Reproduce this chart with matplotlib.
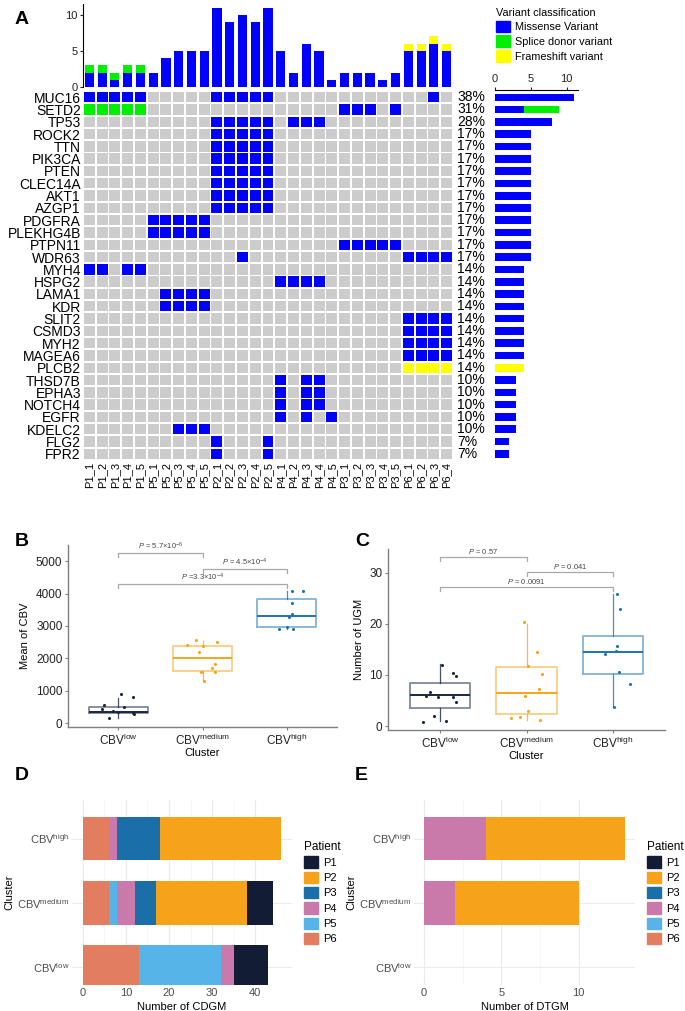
import numpy as np
import matplotlib
matplotlib.use("Agg")
import matplotlib.pyplot as plt
from matplotlib.patches import Patch

plt.rcParams.update({
    "font.family": ["Liberation Sans", "DejaVu Sans"],
    "mathtext.fontset": "custom",
    "mathtext.rm": "Liberation Sans",
    "mathtext.it": "Liberation Sans:italic",
    "mathtext.bf": "Liberation Sans:bold",
})

# ── data: panel A (oncoprint) ────────────────────────────────────────
samples = ["P1_1", "P1_2", "P1_3", "P1_4", "P1_5",
           "P5_1", "P5_2", "P5_3", "P5_4", "P5_5",
           "P2_1", "P2_2", "P2_3", "P2_4", "P2_5",
           "P4_1", "P4_2", "P4_3", "P4_4", "P4_5",
           "P3_1", "P3_2", "P3_3", "P3_4", "P3_5",
           "P6_1", "P6_2", "P6_3", "P6_4"]

# M = missense, S = splice donor, F = frameshift, . = none
# groups:      P1    P5    P2    P4    P3    P6
onco_rows = [
    ("MUC16",    "MMMMM ..... MMMMM ..... ..... ..M."),
    ("SETD2",    "SSSSS ..... ..... ..... MMM.M ...."),
    ("TP53",     "..... ..... MMMMM .MMM. ..... ...."),
    ("ROCK2",    "..... ..... MMMMM ..... ..... ...."),
    ("TTN",      "..... ..... MMMMM ..... ..... ...."),
    ("PIK3CA",   "..... ..... MMMMM ..... ..... ...."),
    ("PTEN",     "..... ..... MMMMM ..... ..... ...."),
    ("CLEC14A",  "..... ..... MMMMM ..... ..... ...."),
    ("AKT1",     "..... ..... MMMMM ..... ..... ...."),
    ("AZGP1",    "..... ..... MMMMM ..... ..... ...."),
    ("PDGFRA",   "..... MMMMM ..... ..... ..... ...."),
    ("PLEKHG4B", "..... MMMMM ..... ..... ..... ...."),
    ("PTPN11",   "..... ..... ..... ..... MMMMM ...."),
    ("WDR63",    "..... ..... ..M.. ..... ..... MMMM"),
    ("MYH4",     "MM.MM ..... ..... ..... ..... ...."),
    ("HSPG2",    "..... ..... ..... MMMM. ..... ...."),
    ("LAMA1",    "..... .MMMM ..... ..... ..... ...."),
    ("KDR",      "..... .MMMM ..... ..... ..... ...."),
    ("SLIT2",    "..... ..... ..... ..... ..... MMMM"),
    ("CSMD3",    "..... ..... ..... ..... ..... MMMM"),
    ("MYH2",     "..... ..... ..... ..... ..... MMMM"),
    ("MAGEA6",   "..... ..... ..... ..... ..... MMMM"),
    ("PLCB2",    "..... ..... ..... ..... ..... FFFF"),
    ("THSD7B",   "..... ..... ..... M.MM. ..... ...."),
    ("EPHA3",    "..... ..... ..... M.MM. ..... ...."),
    ("NOTCH4",   "..... ..... ..... M.MM. ..... ...."),
    ("EGFR",     "..... ..... ..... M.M.M ..... ...."),
    ("KDELC2",   "..... ..MMM ..... ..... ..... ...."),
    ("FLG2",     "..... ..... M...M ..... ..... ...."),
    ("FPR2",     "..... ..... M...M ..... ..... ...."),
]
genes = [g for g, _ in onco_rows]
calls = [s.replace(" ", "") for _, s in onco_rows]

# per-sample mutation burden (top bars)
tmb_missense   = [2, 2, 1, 2, 2, 2, 4, 5, 5, 5, 11, 9, 10, 9, 11,
                  5, 2, 6, 5, 1, 2, 2, 2, 1, 2, 5, 5, 6, 5]
tmb_splice     = [1, 1, 1, 1, 1] + [0] * 24
tmb_frameshift = [0] * 25 + [1, 1, 1, 1]

VC_COL = {"M": "#0000FF", "S": "#00EE00", "F": "#FFFF00", ".": "#CCCCCC"}
VC_LAB = {"M": "Missense Variant", "S": "Splice donor variant", "F": "Frameshift variant"}

# ── data: panels B / C ───────────────────────────────────────────────
clusters = ["low", "medium", "high"]
CL_COL = {"low": "#1B2640", "medium": "#F4A51C", "high": "#1F73AE"}

cbv_box = {
    "low":    dict(q1=300, med=330, q3=510, whislo=155, whishi=770),
    "medium": dict(q1=1605, med=2015, q3=2395, whislo=1336, whishi=2550),
    "high":   dict(q1=2963, med=3321, q3=3827, whislo=2920, whishi=4093),
}
cbv_pts = {
    "low":    [904, 802, 565, 432, 494, 358, 340, 309, 287, 142],
    "medium": [2571, 2426, 2386, 2500, 2200, 1830, 1716, 1562, 1562, 1306],
    "high":   [4093, 4093, 3713, 3383, 3272, 2963, 2920, 2920],
}
cbv_jit = {
    "low":    [0.03, 0.17, -0.17, -0.19, 0.07, -0.07, -0.01, 0.17, 0.19, -0.11],
    "medium": [-0.08, -0.18, 0.01, 0.17, -0.04, 0.15, 0.11, -0.02, 0.15, 0.02],
    "high":   [0.07, 0.19, 0.06, 0.06, 0.03, 0.01, -0.09, 0.08],
}
cbv_pvals = [(1, 2, 5247, r"$\it{P}$ = 5.7×10$^{-6}$"),
             (2, 3, 4762, r"$\it{P}$ = 4.5×10$^{-4}$"),
             (1, 3, 4290, r"$\it{P}$ =3.3×10$^{-4}$")]

ugm_box = {
    "low":    dict(q1=3.47, med=6.0, q3=8.5, whislo=1.04, whishi=12.1),
    "medium": dict(q1=2.29, med=6.47, q3=11.5, whislo=1.18, whishi=20.0),
    "high":   dict(q1=10.2, med=14.45, q3=17.7, whislo=3.8, whishi=25.9),
}
ugm_pts = {
    "low":    [11.96, 10.33, 9.8, 6.7, 5.9, 5.75, 5.75, 4.76, 1.96, 0.98, 0.78],
    "medium": [20.3, 14.4, 11.8, 10.2, 7.2, 5.9, 3.0, 1.6, 1.7, 1.2],
    "high":   [25.9, 23.0, 15.7, 14.7, 14.1, 10.6, 8.2, 3.8],
}
ugm_jit = {
    "low":    [0.02, 0.15, 0.18, -0.11, -0.16, -0.02, 0.15, 0.18, -0.07, 0.07, -0.19],
    "medium": [-0.03, 0.12, 0.02, 0.18, 0.15, -0.02, 0.02, -0.18, -0.08, 0.16],
    "high":   [0.05, 0.08, 0.05, 0.03, -0.09, 0.07, 0.19, 0.01],
}
ugm_pvals = [(1, 2, 33.1, r"$\it{P}$ = 0.57"),
             (2, 3, 30.1, r"$\it{P}$ = 0.041"),
             (1, 3, 27.2, r"$\it{P}$ = 0.0091")]

# ── data: panels D / E (counts per patient, per cluster) ─────────────
patients = ["P1", "P2", "P3", "P4", "P5", "P6"]
PT_COL = {"P1": "#131C35", "P2": "#F7A21B", "P3": "#1A6FA9",
          "P4": "#C97AAB", "P5": "#56B4E9", "P6": "#E27D60"}
cdgm = {  # order: low, medium, high
    "P1": [8, 6, 0],
    "P2": [0, 21, 28],
    "P3": [0, 5, 10],
    "P4": [3, 4, 2],
    "P5": [19, 2, 0],
    "P6": [13, 6, 6],
}
dtgm = {
    "P1": [0, 0, 0],
    "P2": [0, 8, 9],
    "P3": [0, 0, 0],
    "P4": [0, 2, 4],
    "P5": [0, 0, 0],
    "P6": [0, 0, 0],
}

# ── figure ───────────────────────────────────────────────────────────
W, H = 685, 1011
fig = plt.figure(figsize=(W / 100, H / 100), dpi=100)


def px_axes(x0, y0, x1, y1):
    return fig.add_axes([x0 / W, 1 - y1 / H, (x1 - x0) / W, (y1 - y0) / H])


def cbv_label(c):
    return "CBV$^{\\mathrm{%s}}$" % c


n_s, n_g = len(samples), len(genes)
xs = np.arange(n_s)

# top bars
ax_top = px_axes(83, 4, 453, 87)
ax_top.bar(xs, tmb_missense, width=0.72, color=VC_COL["M"])
ax_top.bar(xs, tmb_splice, width=0.72, bottom=tmb_missense, color=VC_COL["S"])
ax_top.bar(xs, tmb_frameshift, width=0.72,
           bottom=np.array(tmb_missense) + np.array(tmb_splice), color=VC_COL["F"])
ax_top.set_xlim(-0.5, n_s - 0.5)
ax_top.set_ylim(0, 11.5)
ax_top.set_yticks([0, 5, 10])
ax_top.set_xticks([])
for s in ["top", "right", "bottom"]:
    ax_top.spines[s].set_visible(False)
ax_top.spines["left"].set_linewidth(0.8)
ax_top.tick_params(axis="y", labelsize=8, length=2.5, width=0.8, pad=1.5, colors="#222222")

# grid
ax_g = px_axes(83, 91, 453, 460)
for gi, row in enumerate(calls):
    cols = [VC_COL[c] for c in row]
    ax_g.bar(xs, 0.85, width=0.86, bottom=gi - 0.425, color=cols)
ax_g.set_xlim(-0.5, n_s - 0.5)
ax_g.set_ylim(n_g - 0.5, -0.5)
ax_g.set_yticks(range(n_g))
ax_g.set_yticklabels(genes, fontsize=10)
ax_g.set_xticks(xs)
ax_g.set_xticklabels(samples, rotation=90, fontsize=8, va="top")
ax_g.tick_params(length=0, pad=1.5)
for s in ax_g.spines.values():
    s.set_visible(False)
for gi, row in enumerate(calls):
    n_mut = sum(c != "." for c in row)
    ax_g.text(n_s - 0.5 + 0.35, gi, f"{round(100 * n_mut / n_s)}%",
              fontsize=10, va="center", ha="left")

# right bars
ax_r = px_axes(495, 90, 578, 460)
left = np.zeros(n_g)
for code in ["M", "S", "F"]:
    cnt = np.array([row.count(code) for row in calls])
    ax_r.barh(range(n_g), cnt, left=left, height=0.62, color=VC_COL[code])
    left += cnt
ax_r.set_xlim(0, 11.6)
ax_r.set_ylim(n_g - 0.5, -0.6)
ax_r.set_yticks([])
ax_r.set_xticks([0, 5, 10])
ax_r.xaxis.tick_top()
for s in ["bottom", "right", "left"]:
    ax_r.spines[s].set_visible(False)
ax_r.spines["top"].set_linewidth(0.8)
ax_r.tick_params(axis="x", labelsize=8, length=2.5, width=0.8, pad=1.5, colors="#222222")

leg = fig.legend([Patch(color=VC_COL[c]) for c in "MSF"], [VC_LAB[c] for c in "MSF"],
                 title="Variant classification", loc="upper left",
                 bbox_to_anchor=(488 / W, 1 - 0 / H), frameon=False, fontsize=7.8,
                 title_fontsize=7.8, handlelength=1.3, handleheight=1.3,
                 handletextpad=0.5, labelspacing=0.28, borderpad=0.2, alignment="left")

fig.text(15 / W, 1 - 20 / H, "A", fontsize=14, fontweight="bold", va="center")


# ── box panels ───────────────────────────────────────────────────────
def box_panel(ax, boxes, pts, jit, pvals, ylim, yticks, ylabel):
    for i, c in enumerate(clusters):
        col = CL_COL[c]
        st = dict(boxes[c])
        st["fliers"] = []
        ax.bxp([st], positions=[i + 1], widths=0.7, showfliers=False,
               boxprops=dict(color=col, alpha=0.55, lw=1.3),
               whiskerprops=dict(color=col, alpha=0.8, lw=0.9),
               capprops=dict(visible=False),
               medianprops=dict(color=col, lw=1.4))
        ax.scatter(np.array(jit[c]) + i + 1, pts[c], s=5, color=col, zorder=3, lw=0)
    for x1, x2, y, txt in pvals:
        d = (ylim[1] - ylim[0]) * 0.022
        ax.plot([x1, x1, x2, x2], [y - d, y, y, y - d], color="#A8A8A8", lw=0.9)
        ax.text((x1 + x2) / 2, y + d * 0.3, txt, fontsize=5.5, ha="center",
                va="bottom", color="#444444")
    ax.set_xlim(0.4, 3.6)
    ax.set_ylim(*ylim)
    ax.set_yticks(yticks)
    ax.set_xticks([1, 2, 3])
    ax.set_xticklabels([cbv_label(c) for c in clusters], fontsize=8.5)
    for s in ["top", "right"]:
        ax.spines[s].set_visible(False)
    for s in ["left", "bottom"]:
        ax.spines[s].set_color("#7F7F7F")
        ax.spines[s].set_linewidth(1.0)
    ax.tick_params(labelsize=8.5, length=2.5, width=0.8, color="#7F7F7F",
                   labelcolor="#222222", pad=1.5)
    ax.set_xlabel("Cluster", fontsize=8, labelpad=0)
    ax.set_ylabel(ylabel, fontsize=8, labelpad=4)


ax_b = px_axes(68, 545, 337, 727)
box_panel(ax_b, cbv_box, cbv_pts, cbv_jit, cbv_pvals, (-123, 5503),
          [0, 1000, 2000, 3000, 4000, 5000], "Mean of CBV")
fig.text(15 / W, 1 - 541 / H, "B", fontsize=14, fontweight="bold", va="center")

ax_c = px_axes(388, 549, 665, 730)
box_panel(ax_c, ugm_box, ugm_pts, ugm_jit, ugm_pvals, (-0.78, 34.65),
          [0, 10, 20, 30], "Number of UGM")
fig.text(355 / W, 1 - 541 / H, "C", fontsize=14, fontweight="bold", va="center")


# ── stacked bar panels ───────────────────────────────────────────────
def stack_panel(ax, counts, xlim, xticks, xlabel):
    ys = np.arange(len(clusters))
    left = np.zeros(len(clusters))
    for p in patients[::-1]:
        v = np.array(counts[p], dtype=float)
        ax.barh(ys, v, left=left, height=0.68, color=PT_COL[p], zorder=2)
        left += v
    ax.set_xlim(*xlim)
    ax.set_ylim(-0.28, len(clusters) - 0.4)
    ax.set_yticks(ys)
    ax.set_yticklabels([cbv_label(c) for c in clusters], fontsize=8.5)
    ax.set_xticks(xticks)
    ax.set_xticks(np.array(xticks[:-1]) + (xticks[1] - xticks[0]) / 2, minor=True)
    ax.grid(True, which="major", color="#EBEBEB", lw=0.8, zorder=0)
    ax.grid(True, which="minor", axis="x", color="#F4F4F4", lw=0.5, zorder=0)
    for s in ax.spines.values():
        s.set_visible(False)
    ax.tick_params(which="both", length=0, labelsize=8, labelcolor="#4D4D4D", pad=2)
    ax.set_xlabel(xlabel, fontsize=8, labelpad=3)
    ax.set_ylabel("Cluster", fontsize=8, labelpad=2)
    ax.legend([Patch(color=PT_COL[p]) for p in patients], patients, title="Patient",
              loc="center left", bbox_to_anchor=(1.01, 0.5), frameon=False,
              fontsize=8, title_fontsize=8.5, handlelength=1.2, handleheight=1.2,
              handletextpad=0.5, labelspacing=0.35, alignment="left")


ax_d = px_axes(72, 800, 292, 985)
stack_panel(ax_d, cdgm, (-2.5, 48.5), [0, 10, 20, 30, 40], "Number of CDGM")
fig.text(15 / W, 1 - 775 / H, "D", fontsize=14, fontweight="bold", va="center")

ax_e = px_axes(414, 800, 635, 985)
stack_panel(ax_e, dtgm, (-0.65, 13.65), [0, 5, 10], "Number of DTGM")
fig.text(355 / W, 1 - 775 / H, "E", fontsize=14, fontweight="bold", va="center")

fig.savefig("out.png", dpi=100)
